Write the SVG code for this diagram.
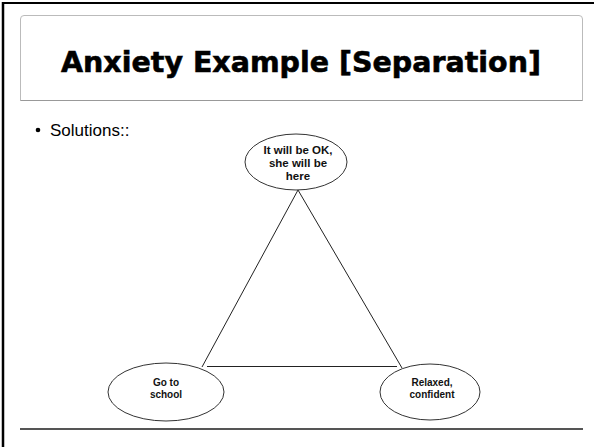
<svg xmlns="http://www.w3.org/2000/svg" width="594" height="447" viewBox="0 0 594 447">
<style>
.node ellipse{fill:#fff;stroke:#333;stroke-width:1}
.node text{font-family:"Liberation Sans",Arial,sans-serif;font-weight:bold;font-size:10px;fill:#111;text-anchor:middle}
.node .big{font-size:11.5px}
.conn line{stroke:#222;stroke-width:1}
</style>
<rect width="594" height="447" fill="#fff"/>
<g id="frame">
<line x1="3" y1="3" x2="594" y2="3" stroke="#000" stroke-width="2"/>
<line x1="3" y1="2" x2="3" y2="447" stroke="#000" stroke-width="2.5"/>
<path d="M20.5 100.5 V19 Q20.5 15.5 24 15.5 H579 Q582.5 15.5 582.5 19 V100.5 Z" fill="#fff" stroke="#bbb" stroke-width="1"/>
<line x1="20.5" y1="100.5" x2="582.5" y2="100.5" stroke="#999" stroke-width="1"/>
<line x1="20" y1="429" x2="583" y2="429" stroke="#555" stroke-width="2"/>
</g>
<g id="title">
<text x="301" y="72" font-family="'DejaVu Sans','Liberation Sans',Arial,sans-serif" font-weight="bold" font-size="28.5" text-anchor="middle" textLength="480" lengthAdjust="spacingAndGlyphs" fill="#000" stroke="#000" stroke-width="0.6">Anxiety Example [Separation]</text>
</g>
<g id="bullet">
<circle cx="38" cy="130" r="2.3" fill="#000"/>
<text x="50" y="136" font-family="'Liberation Sans',Arial,sans-serif" font-size="17" fill="#000">Solutions::</text>
</g>
<g class="conn" id="connectors">
<line x1="298" y1="190" x2="202" y2="367"/>
<line x1="298" y1="190" x2="402" y2="368"/>
<line x1="207" y1="366.5" x2="397" y2="366.5"/>
</g>
<g class="node" id="node-ok">
<ellipse cx="296" cy="162" rx="51" ry="28"/>
<text class="big" x="298" y="154">It will be OK,</text>
<text class="big" x="298" y="167">she will be</text>
<text class="big" x="298" y="180">here</text>
</g>
<g class="node" id="node-school">
<ellipse cx="166" cy="392" rx="58" ry="29"/>
<text x="166" y="386">Go to</text>
<text x="166" y="398">school</text>
</g>
<g class="node" id="node-relaxed">
<ellipse cx="430" cy="392" rx="50" ry="28"/>
<text x="432" y="386">Relaxed,</text>
<text x="432" y="398">confident</text>
</g>
</svg>
